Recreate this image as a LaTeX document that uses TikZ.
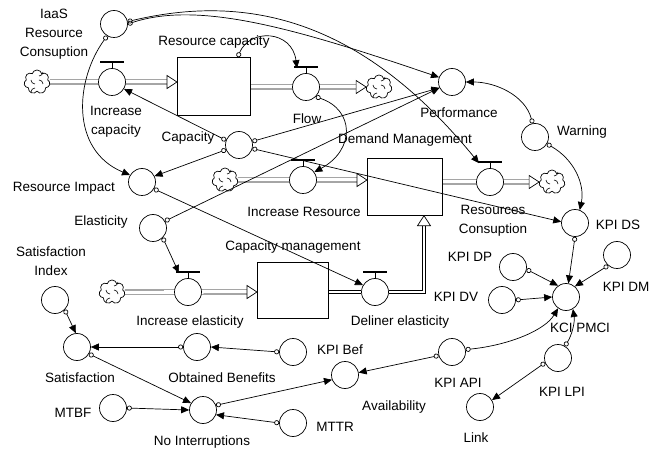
\documentclass[tikz,border=0pt]{standalone}
\usepackage{fontspec}
\setmainfont{Liberation Sans}
\usetikzlibrary{arrows.meta,calc,shapes.symbols,backgrounds}
\begin{document}
\begin{tikzpicture}[x=1bp,y=-1bp,
  aux/.style={circle, draw, fill=white, minimum size=27bp, inner sep=0pt, line width=0.7bp},
  stockbox/.style={draw, fill=white, inner sep=0pt, line width=0.7bp, anchor=north west},
  lbl/.style={font=\fontsize{13.5bp}{19bp}\selectfont, inner sep=0pt, align=center},
  conn/.style={line width=0.7bp, {Circle[open,length=5bp,width=5bp]}-{Triangle[length=8bp,width=7bp]}},
  pipe/.style={double, double distance=3.5bp, line width=0.7bp},
  pipeline/.style={line width=0.7bp},
  cloudsym/.style={cloud, cloud puffs=7, aspect=1.1, draw, fill=white, minimum width=26bp, minimum height=24bp, inner sep=0pt, line width=0.7bp},
  ptip/.pic={\draw[fill=white, line width=0.7bp] (0,0) -- (-10,-6.5) -- (-10,6.5) -- cycle;},
  swirl/.pic={\draw[line width=0.6bp] (-6,-2) arc[start angle=180,end angle=90,radius=4] (2,-6) arc[start angle=90,end angle=0,radius=4] (6,2) arc[start angle=0,end angle=-90,radius=4] (-2,6) arc[start angle=-90,end angle=-180,radius=4];}
]
\useasboundingbox (0,0) rectangle (651,451);

% auxiliaries, valves, stocks, clouds
\node[aux] (iaas) at (114,24) {};
\node[cloudsym] (cloudA) at (37,82) {};
\node[aux] (vIncCap) at (112,82) {};
\node[stockbox, minimum width=73bp, minimum height=58bp] (rescap) at (177,57) {};
\node[aux] (vFlow) at (306,87) {};
\node[cloudsym] (cloudB) at (379,87) {};
\node[aux] (perf) at (452,82) {};
\node[aux] (warn) at (535,137) {};
\node[aux] (cap) at (239,145) {};
\node[aux] (resimp) at (142,182) {};
\node[cloudsym] (cloudC) at (225,180) {};
\node[aux] (vIncRes) at (303,180) {};
\node[stockbox, minimum width=75bp, minimum height=57bp] (dem) at (367,158) {};
\node[aux] (vResCons) at (490,182) {};
\node[cloudsym] (cloudD) at (552,182) {};
\node[aux] (kpids) at (575,223) {};
\node[aux] (elast) at (153,228) {};
\node[aux] (kpidp) at (513,267) {};
\node[aux] (kpidm) at (617,255) {};
\node[aux] (kpidv) at (502,300) {};
\node[aux] (kci) at (566,297) {};
\node[aux] (si) at (55,300) {};
\node[cloudsym] (cloudE) at (112,292) {};
\node[aux] (vIncEl) at (188,292) {};
\node[stockbox, minimum width=71bp, minimum height=56bp] (capm) at (257,262) {};
\node[aux] (vDel) at (375,292) {};
\node[aux] (sat) at (77,347) {};
\node[aux] (ob) at (197,347) {};
\node[aux] (kpibef) at (293,352) {};
\node[aux] (kpiapi) at (452,352) {};
\node[aux] (avail) at (345,375) {};
\node[aux] (kpilpi) at (558,358) {};
\node[aux] (link) at (480,407) {};
\node[aux] (mtbf) at (113,408) {};
\node[aux] (noint) at (203,410) {};
\node[aux] (mttr) at (293,423) {};
\coordinate (pcorner) at (424,292);
\coordinate (ptop) at (dem.south-|pcorner);

\foreach \c in {cloudA,cloudB,cloudC,cloudD,cloudE}{ \pic at (\c) {swirl}; }

% pipes (behind)
\begin{scope}[on background layer]
\fill[white] (0,0) rectangle (651,451);
\draw[pipe] (cloudA.east) -- ($(rescap.west|-cloudA)+(-10,0)$);
\draw[pipe] (rescap.east|-vFlow) -- ($(cloudB.west)+(-10,0)$);
\draw[pipe] (cloudC.east) -- ($(dem.west|-cloudC)+(-10,0)$);
\draw[pipe] (dem.east|-vResCons) -- ($(cloudD.west)+(-10,0)$);
\draw[pipe] (cloudE.east) -- ($(capm.west|-cloudE)+(-10,0)$);
\end{scope}
% outflow of Capacity management: two parallel lines
\draw[pipeline] ($(capm.east|-vDel)+(0,-1.75)$) -- ($(vDel.west)+(0.1,-1.75)$);
\draw[pipeline] ($(capm.east|-vDel)+(0,1.75)$) -- ($(vDel.west)+(0.1,1.75)$);
\draw[pipeline] ($(vDel.east)+(-0.1,-1.75)$) -- ($(pcorner)+(-1.75,-1.75)$) -- ($(ptop)+(-1.75,10)$);
\draw[pipeline] ($(vDel.east)+(-0.1,1.75)$) -- ($(pcorner)+(1.75,1.75)$) -- ($(ptop)+(1.75,10)$);
\pic at (rescap.west|-cloudA) {ptip};
\pic at (cloudB.west) {ptip};
\pic at (dem.west|-cloudC) {ptip};
\pic at (cloudD.west) {ptip};
\pic at (capm.west|-cloudE) {ptip};
\pic[rotate=90] at (ptop) {ptip};

% valve bars
\foreach \v in {vIncCap,vFlow,vIncRes,vResCons,vIncEl,vDel}{
  \draw[line width=0.7bp] (\v.north) -- ++(0,-6);
  \draw[line width=1.6bp] ($(\v.north)+(-12,-6)$) -- ++(24,0);
}

% connectors
\draw[conn] (iaas.east) .. controls (200,0) and (300,30) .. (perf.160);
\draw[conn] (iaas.10) .. controls (260,-10) and (370,30) .. ($(vResCons.north)+(-11,-5)$);
\draw[conn] (iaas.240) .. controls (75,80) and (70,150) .. (resimp.150);
\draw[conn] ($(rescap.north east)+(-13,0)$) .. controls (250,28) and (292,30) .. ($(vFlow.north)+(-9,-5)$);
\draw[conn] (vFlow.-45) .. controls (355,110) and (355,150) .. (vIncRes.35);
\draw[conn] (cap.160) -- (vIncCap.-30);
\draw[conn] (cap.200) -- (resimp.25);
\draw[conn] (cap.15) -- (perf.205);
\draw[conn] (cap.-15) -- (kpids.175);
\draw[conn] (elast.30) -- (perf.205);
\draw[conn] (resimp.-30) -- (vDel.150);
\draw[conn] (elast.-45) -- ($(vIncEl.north)+(-9,-5)$);
\draw[conn] (si.-45) -- (sat.95);
\draw[conn] (ob.180) -- (sat.0);
\draw[conn] (kpibef.180) -- (ob.0);
\draw[conn] (sat.-30) -- (noint.150);
\draw[conn] (mtbf.0) -- (noint.180);
\draw[conn] (mttr.180) -- (noint.-20);
\draw[conn] (noint.20) -- (avail.200);
\draw[conn] (kpiapi.195) -- (avail.10);
\draw[conn] (kpiapi.10) .. controls (510,345) and (545,330) .. (kci.235);
\draw[conn] (kpilpi.60) .. controls (572,335) and (575,322) .. (kci.-60);
\draw[conn] (kpilpi.200) -- (link.30);
\draw[conn] (kpidv.0) -- (kci.180);
\draw[conn] (kpidp.-10) -- (kci.125);
\draw[conn] (kpidm.230) -- (kci.50);
\draw[conn] (kpids.-90) -- (kci.80);
\draw[conn] (warn.100) .. controls (525,95) and (495,82) .. (perf.0);
\draw[conn] (warn.-30) .. controls (575,160) and (585,185) .. (kpids.70);

% labels
\node[lbl] (tIaas) at (54,34) {IaaS\\Resource\\Consuption};
\node[lbl] (tResCap) at (214,42) {Resource capacity};
\node[lbl] (tIncCap) at (116,122) {Increase\\capacity};
\node[lbl] (tCap) at (188,138) {Capacity};
\node[lbl] (tFlow) at (307,119) {Flow};
\node[lbl] (tPerf) at (459,113) {Performance};
\node[lbl] (tWarn) at (582,132) {Warning};
\node[lbl] (tDem) at (405,140) {Demand Management};
\node[lbl] (tResImp) at (64,188) {Resource Impact};
\node[lbl] (tIncRes) at (304,212) {Increase Resource};
\node[lbl] (tResCons) at (493,221) {Resources\\Consuption};
\node[lbl] (tKpids) at (618,225) {KPI DS};
\node[lbl] (tElast) at (101,222) {Elasticity};
\node[lbl] (tCapm) at (293,247) {Capacity management};
\node[lbl] (tSI) at (51,261) {Satisfaction\\Index};
\node[lbl] (tKpidp) at (470,257) {KPI DP};
\node[lbl] (tKpidm) at (626,287) {KPI DM};
\node[lbl] (tKpidv) at (456,297) {KPI DV};
\node[lbl] (tKci) at (580,328) {KCI PMCI};
\node[lbl] (tIncEl) at (190,322) {Increase elasticity};
\node[lbl] (tDel) at (400,322) {Deliner elasticity};
\node[lbl] (tKpibef) at (340,350) {KPI Bef};
\node[lbl] (tSat) at (80,378) {Satisfaction};
\node[lbl] (tOb) at (222,378) {Obtained Benefits};
\node[lbl] (tKpiapi) at (458,383) {KPI API};
\node[lbl] (tKpilpi) at (562,392) {KPI LPI};
\node[lbl] (tAvail) at (394,407) {Availability};
\node[lbl] (tMtbf) at (73,413) {MTBF};
\node[lbl] (tNoint) at (202,442) {No Interruptions};
\node[lbl] (tMttr) at (335,427) {MTTR};
\node[lbl] (tLink) at (476,438) {Link};
\end{tikzpicture}
\end{document}
